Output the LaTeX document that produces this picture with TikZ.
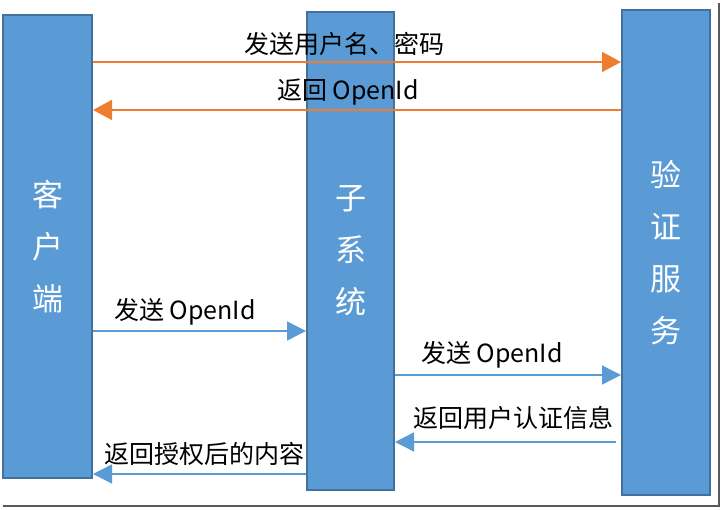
\documentclass[tikz,border=0pt]{standalone}
\usepackage{fontspec}
\setmainfont{Noto Sans CJK SC}
\usetikzlibrary{arrows.meta,calc}

\definecolor{barblue}{HTML}{5B9BD5}
\definecolor{bardraw}{HTML}{41719C}
\definecolor{arrorange}{HTML}{ED7D31}

\begin{document}
\begin{tikzpicture}[
    x=1pt, y=-1pt,
    bar/.style={draw=bardraw, line width=2pt, fill=barblue, align=center,
                text=white, inner sep=0pt,
                font=\fontsize{31}{52}\selectfont},
    msg/.style={font=\fontsize{25}{27}\selectfont, inner sep=0pt},
    oarr/.style={draw=arrorange, line width=1.6pt,
                 -{Triangle[length=19pt,width=20pt]}},
    barr/.style={draw=barblue, line width=1.4pt,
                 -{Triangle[length=19pt,width=19pt]}}
]
\useasboundingbox (0,0) rectangle (723,510);
% --- frame shadow ------------------------------------------------------
\draw[gray!70!black, line width=2pt] (3,506) -- (719,506) -- (719,3);
% --- lifelines ---------------------------------------------------------
\node[bar, minimum width=89pt, minimum height=463pt] (client) at (47.5,246.5)
     {客\\户\\端};
\node[bar, minimum width=87pt, minimum height=478pt] (sub) at (350.5,251)
     {子\\系\\统};
\node[bar, minimum width=88pt, minimum height=485pt] (auth) at (666,252.5)
     {验\\证\\服\\务};
% --- message rows ------------------------------------------------------
\coordinate (r1) at (0,62);
\coordinate (r2) at (0,110);
\coordinate (r3) at (0,331);
\coordinate (r4) at (0,375);
\coordinate (r5) at (0,442);
\coordinate (r6) at (0,474);
% --- messages ----------------------------------------------------------
\draw[oarr] (client.east |- r1) -- (auth.west |- r1);
\draw[oarr] (auth.west |- r2) -- (client.east |- r2);
\draw[barr] (client.east |- r3) -- (sub.west |- r3);
\draw[barr] (sub.east |- r4) -- (auth.west |- r4);
\draw[barr, shorten <=5pt] (auth.west |- r5) -- (sub.east |- r5);
\draw[barr] (sub.west |- r6) -- (client.east |- r6);
% --- labels ------------------------------------------------------------
\node[msg] (l1) at (344,44) {发送用户名、密码};
\node[msg] (l2) at (348,92) {返回 OpenId};
\node[msg] (l3) at (185,312) {发送 OpenId};
\node[msg] (l4) at (492,355) {发送 OpenId};
\node[msg] (l5) at (513,418) {返回用户认证信息};
\node[msg] (l6) at (204,454) {返回授权后的内容};
\end{tikzpicture}
\end{document}
